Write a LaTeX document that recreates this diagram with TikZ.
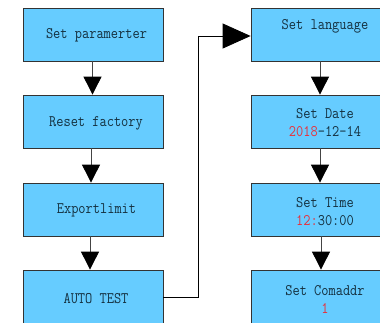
\documentclass[tikz,border=0pt]{standalone}
\usepackage{fontspec}
\usepackage{graphicx}
\usetikzlibrary{arrows.meta}
\definecolor{boxfill}{HTML}{66CCFF}
\definecolor{boxline}{HTML}{333333}
\definecolor{txt}{HTML}{14303F}
\definecolor{hl}{HTML}{E8303A}
\definecolor{conn}{HTML}{444444}
\newcommand{\tl}[1]{\scalebox{1}[1.15]{#1}}
\tikzset{
  stepbox/.style={draw=boxline, line width=0.8pt, fill=boxfill, minimum width=140pt, minimum height=53pt, inner sep=0pt},
  boxtext/.style={text=txt, align=center, font=\ttfamily\fontsize{14pt}{18pt}\selectfont, inner sep=0pt, yshift=-1.5pt},
  flow/.style={draw=conn, line width=0.9pt, -{Triangle[width=18pt,length=18pt,fill=black,color=black]}},
  bigflow/.style={draw=black, line width=0.8pt, -{Triangle[width=25pt,length=28pt,fill=black,color=black]}}
}
\begin{document}
\begin{tikzpicture}[x=1pt,y=-1pt]
\useasboundingbox (0,0) rectangle (380,322);
\clip (0,0) rectangle (380,322);
\fill[white] (0,0) rectangle (380,322);
% left column
\node[stepbox] (b1) at (93,34.5) {};
\node[stepbox] (b2) at (93,121.5) {};
\node[stepbox] (b3) at (93,209.5) {};
\node[stepbox] (b4) at (93,296.5) {};
% right column
\node[stepbox] (r1) at (321,34.5) {};
\node[stepbox] (r2) at (321,121.5) {};
\node[stepbox] (r3) at (321,209.5) {};
\node[stepbox] (r4) at (321,296.5) {};
% texts
\node[boxtext] (t1) at (96.5,34) {\tl{Set paramerter}};
\node[boxtext] (t2) at (96,121.5) {\tl{Reset factory}};
\node[boxtext] (t3) at (96.5,209) {\tl{Exportlimit}};
\node[boxtext] (t4) at (96,297) {\tl{AUTO TEST}};
\node[boxtext] (u1) at (325,25) {\tl{Set language}};
\node[boxtext] (u2) at (325,121) {\tl{Set Date}\\\tl{\textcolor{hl}{2018}-12-14}};
\node[boxtext] (u3) at (325,210) {\tl{Set Time}\\\tl{\textcolor{hl}{12:}30:00}};
\node[boxtext] (u4) at (325,297.5) {\tl{Set Comaddr}\\\tl{\textcolor{hl}{1}}};
% connectors
\draw[flow] ([xshift=-0.5pt]b1.south) -- ([xshift=-0.5pt]b2.north);
\draw[flow] ([xshift=-2pt]b2.south) -- ([xshift=-2pt]b3.north);
\draw[flow] ([xshift=-3pt]b3.south) -- ([xshift=-3pt]b4.north);
\draw[flow] ([xshift=-1pt]r1.south) -- ([xshift=-1pt]r2.north);
\draw[flow] ([xshift=-1pt]r2.south) -- ([xshift=-1pt]r3.north);
\draw[flow] (r3.south) -- (r4.north);
\coordinate (c1) at (198,297);
\coordinate (c2) at (198,36);
\draw[bigflow] (b4.east |- c1) -- (c1) -- (c2) -- (r1.west |- c2);
\end{tikzpicture}
\end{document}
